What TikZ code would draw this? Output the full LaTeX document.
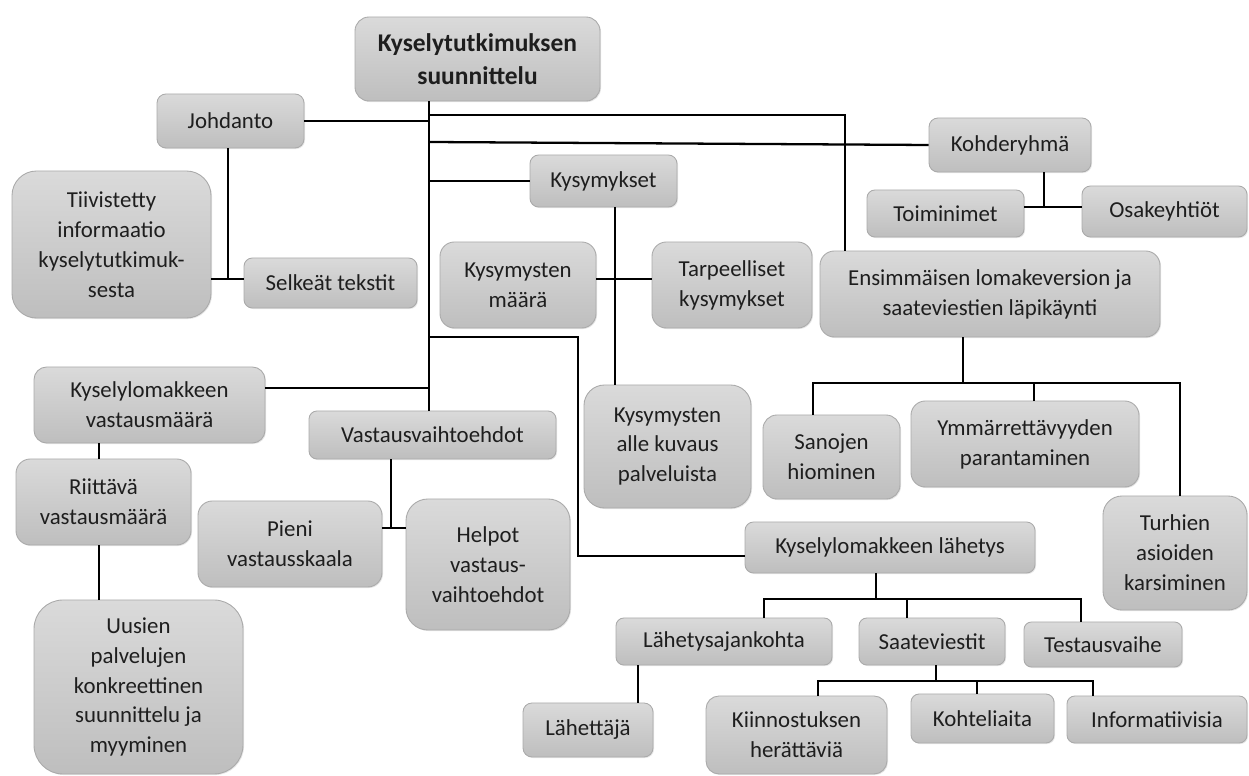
\documentclass[tikz,border=0pt]{standalone}
\usepackage{fontspec}
\setmainfont{Carlito}
\usetikzlibrary{shadows,calc}
\definecolor{btop}{RGB}{218,218,218}
\definecolor{bbot}{RGB}{190,190,190}
\definecolor{bline}{RGB}{170,170,170}
\definecolor{btext}{RGB}{30,30,30}
\tikzset{
  box/.style={draw=bline, line width=0.5pt, top color=btop, bottom color=bbot,
    text=btext, align=center, inner sep=2pt,
    font=\fontsize{13}{17}\selectfont,
    drop shadow={shadow xshift=0.6pt, shadow yshift=-0.6pt, opacity=0.2}},
  rootfont/.style={font=\fontsize{14.5}{19}\selectfont\bfseries},
  conn/.style={line width=1.3pt, black},
}
\newcommand\mkbox[7][]{\node[box, #1, minimum width={(#5-#3)*0.02cm}, minimum height={(#6-#4)*0.02cm}, rounded corners={min(#5-#3,#6-#4)/6*0.02cm}] (#2) at ({(#3+#5)/2},{(#4+#6)/2}) {#7};}
\begin{document}
\begin{tikzpicture}[x=0.02cm,y=-0.02cm]
\useasboundingbox (0,0) rectangle (1249,776);
\mkbox[rootfont]{root}{355}{17}{600}{101}{Kyselytutkimuksen\\suunnittelu}
\mkbox{joh}{157}{94}{304}{148}{Johdanto}
\mkbox{tii}{12}{171}{211}{318}{Tiivistetty\\informaatio\\kyselytutkimuk-\\sesta}
\mkbox{sel}{244}{258}{417}{308}{Selkeät tekstit}
\mkbox{kys}{530}{155}{677}{207}{Kysymykset}
\mkbox{maa}{440}{242}{596}{328}{Kysymysten\\määrä}
\mkbox{tar}{652}{242}{812}{328}{Tarpeelliset\\kysymykset}
\mkbox{koh}{929}{118}{1091}{172}{Kohderyhmä}
\mkbox{toi}{867}{190}{1024}{237}{Toiminimet}
\mkbox{osa}{1082}{186}{1247}{237}{Osakeyhtiöt}
\mkbox{ens}{820}{251}{1160}{337}{Ensimmäisen lomakeversion ja\\saateviestien läpikäynti}
\mkbox{kvm}{34}{367}{265}{443}{Kyselylomakkeen\\vastausmäärä}
\mkbox{vas}{309}{411}{556}{459}{Vastausvaihtoehdot}
\mkbox{all}{584}{385}{751}{508}{Kysymysten\\alle kuvaus\\palveluista}
\mkbox{san}{763}{415}{900}{499}{Sanojen\\hiominen}
\mkbox{ymm}{911}{401}{1139}{487}{Ymmärrettävyyden\\parantaminen}
\mkbox{rii}{16}{459}{191}{545}{Riittävä\\vastausmäärä}
\mkbox{pie}{198}{501}{382}{587}{Pieni\\vastausskaala}
\mkbox{hel}{406}{499}{570}{630}{Helpot\\vastaus-\\vaihtoehdot}
\mkbox{tur}{1103}{496}{1247}{610}{Turhien\\asioiden\\karsiminen}
\mkbox{lah}{745}{522}{1035}{573}{Kyselylomakkeen lähetys}
\mkbox{lsa}{616}{618}{832}{665}{Lähetysajankohta}
\mkbox{saa}{859}{618}{1005}{665}{Saateviestit}
\mkbox{tes}{1024}{622}{1182}{667}{Testausvaihe}
\mkbox{uus}{34}{600}{243}{774}{Uusien\\palvelujen\\konkreettinen\\suunnittelu ja\\myyminen}
\mkbox{lht}{523}{703}{653}{757}{Lähettäjä}
\mkbox{kii}{706}{696}{887}{774}{Kiinnostuksen\\herättäviä}
\mkbox{kht}{911}{694}{1054}{743}{Kohteliaita}
\mkbox{inf}{1067}{696}{1247}{743}{Informatiivisia}
% coordinates
\coordinate (tx) at (429,0);
\coordinate (jx) at (228,279);
\coordinate (e1) at (845,115);
\coordinate (c142) at (0,142);
\coordinate (kx) at (615,279);
\coordinate (l1) at (578,337);
\coordinate (l2) at (578,556);
\coordinate (k1) at (0,388);
\coordinate (rx) at (99,0);
\coordinate (v1) at (391,528);
\coordinate (o1) at (1044,207);
\coordinate (e2) at (963,383);
\coordinate (b1) at (813,383);
\coordinate (b2) at (1180,383);
\coordinate (b3) at (1034,383);
\coordinate (h0) at (876,599);
\coordinate (h1) at (764,599);
\coordinate (h2) at (1081,599);
\coordinate (h3) at (907,599);
\coordinate (p1) at (638,0);
\coordinate (s0) at (936,681);
\coordinate (s1) at (818,681);
\coordinate (s2) at (1093,681);
\coordinate (s3) at (977,681);
% connectors
\draw[conn] (root.south -| tx) -- (vas.north -| tx);
\draw[conn] (joh.east) -- (joh.east -| tx);
\draw[conn] (joh.south -| jx) -- (jx);
\draw[conn] (tii.east |- jx) -- (sel.west |- jx);
\draw[conn] (e1 -| tx) -- (e1) -- (ens.north -| e1);
\draw[conn] (tx |- c142) -- (koh.west);
\draw[conn] (tx |- kys.west) -- (kys.west);
\draw[conn] (kys.south -| kx) -- (all.north -| kx);
\draw[conn] (maa.east |- kx) -- (tar.west |- kx);
\draw[conn] (l1 -| tx) -- (l1) -- (l2) -- (lah.west |- l2);
\draw[conn] (kvm.east |- k1) -- (tx |- k1);
\draw[conn] (kvm.south -| rx) -- (rii.north -| rx);
\draw[conn] (rii.south -| rx) -- (uus.north -| rx);
\draw[conn] (vas.south -| v1) -- (v1);
\draw[conn] (pie.east |- v1) -- (hel.west |- v1);
\draw[conn] (koh.south -| o1) -- (o1);
\draw[conn] (toi.east |- o1) -- (osa.west |- o1);
\draw[conn] (ens.south -| e2) -- (e2);
\draw[conn] (san.north -| b1) -- (b1) -- (b2) -- (tur.north -| b2);
\draw[conn] (b3) -- (ymm.north -| b3);
\draw[conn] (lah.south -| h0) -- (h0);
\draw[conn] (lsa.north -| h1) -- (h1) -- (h2) -- (tes.north -| h2);
\draw[conn] (h3) -- (saa.north -| h3);
\draw[conn] (lsa.south -| p1) -- (lht.north -| p1);
\draw[conn] (saa.south -| s0) -- (s0);
\draw[conn] (kii.north -| s1) -- (s1) -- (s2) -- (inf.north -| s2);
\draw[conn] (s3) -- (kht.north -| s3);
\end{tikzpicture}
\end{document}
